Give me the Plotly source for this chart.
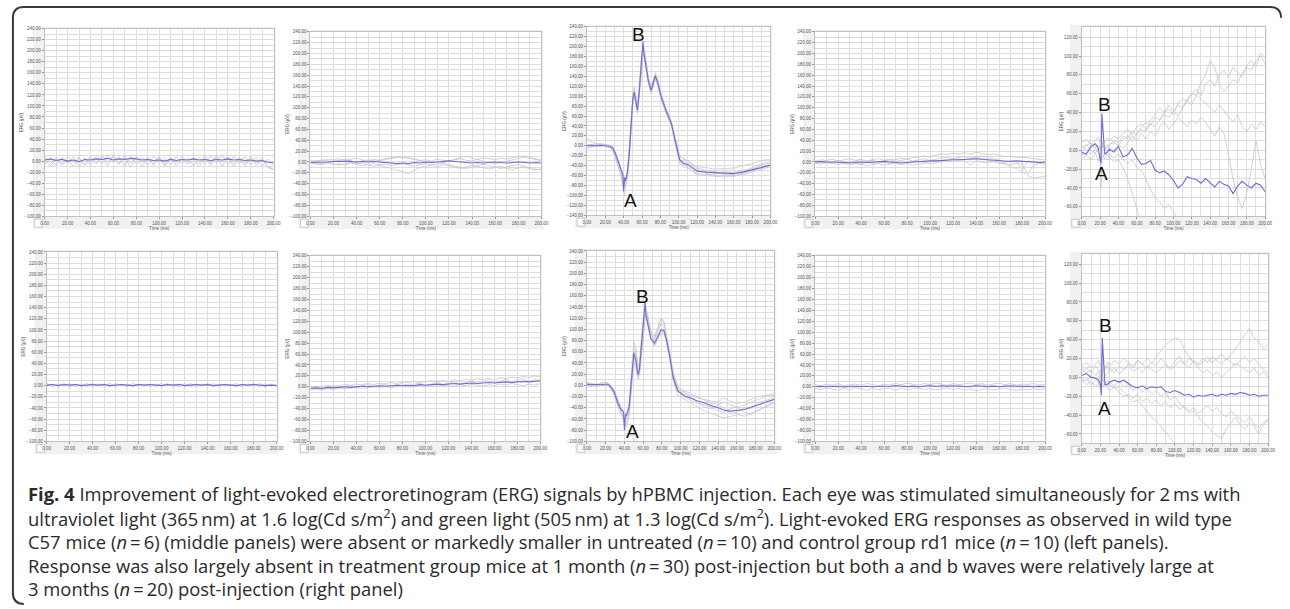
import plotly.graph_objects as go

# ---------------- data ----------------
t_flat = [0, 5, 10, 15, 20, 25, 30, 35, 40, 45, 50, 55, 60, 65, 70, 75, 80, 85, 90, 95,
          100, 105, 110, 115, 120, 125, 130, 135, 140, 145, 150, 155, 160, 165, 170, 175,
          180, 185, 190, 195, 200]

# Row 1 / left panel (rd1 untreated)
p1t_blue = [2, 4, 1, 3, 0, 2, -1, 3, 2, 4, 3, 5, 2, 4, 3, 5, 4, 2, 3, 1, 2, 0, 3, 1, 3, 2, 4, 2, 3, 1,
            3, 2, 4, 2, 3, 1, 2, 0, 1, -2, -3]
p1t_g1 = [8, -4, 6, -6, 9, -3, 7, -8, 5, -5, 10, -2, 8, -6, 11, -4, 9, -3, 7, -5, 8, -6, 6, -4, 9, -3,
          7, -5, 10, -4, 11, -2, 8, -6, 7, -5, 9, -4, 6, -12, -16]
p1t_g2 = [-6, 5, -8, 7, -4, 8, -10, 6, -7, 9, -5, 11, -3, 8, -9, 10, -6, 7, -8, 9, -4, 6, -7, 8, -5, 6,
          -9, 7, -6, 10, -4, 12, -7, 9, -5, 8, -6, 7, -9, 4, -8]
p1t_g3 = [3, -9, 4, -7, 2, -10, 5, -6, 9, -2, 6, -8, 12, -5, 7, -11, 5, -9, 4, -7, 6, -9, 5, -8, 4, -6,
          3, -10, 5, -7, 8, -9, 6, -10, 4, -8, 5, -7, 3, -11, -14]

# Row 2 / left panel (rd1 control)
p1b_blue = [1, 2, 0, 2, 1, 2, 0, 1, 2, 1, 2, 0, 1, 2, 1, 0, 2, 1, 2, 1, 0, 2, 1, 2, 0, 1, 2, 1, 2, 0,
            1, 2, 1, 0, 2, 1, 2, 1, 0, 1, 0]
p1b_g1 = [4, -2, 3, -1, 4, -2, 3, -2, 4, -1, 3, -2, 4, -1, 3, -2, 2, -1, 3, -2, 4, -1, 3, -2, 4, -2,
          3, -1, 4, -2, 3, -1, 2, -2, 3, -1, 4, -2, 3, -1, 2]
p1b_g2 = [-2, 3, -1, 4, -2, 3, -1, 4, -2, 3, -1, 4, -2, 3, -2, 4, -1, 3, -2, 3, -1, 4, -2, 3, -1, 4,
          -2, 3, -1, 4, -2, 3, -1, 4, -2, 3, -1, 4, -2, 3, -1]

# Row 1 / second panel
p2t_blue = [-1, -1, 0, 0, 1, 1, 2, 1, 0, 1, 0, 1, 0, -1, -2, -3, -2, -3, -1, -2, 0, -1, 0, 1, 2, 1, 0,
            -1, -2, -1, -2, -1, 0, -1, -2, -1, 0, -1, -2, -1, -2]
p2t_g1 = [0, 3, 2, 5, 4, 6, 3, 5, 7, 4, 2, 5, 3, 6, 8, 10, 7, 9, 5, 3, 4, 2, 5, 3, 1, 4, 6, 3, 2, 5,
          8, 6, 4, 7, 5, 8, 10, 11, 8, 6, 4]
p2t_g2 = [-2, -4, -3, -1, -5, -3, -6, -2, -4, -7, -5, -8, -6, -9, -12, -14, -18, -21, -15, -10, -8, -6,
          -9, -5, -7, -10, -12, -9, -6, -8, -11, -13, -10, -8, -12, -14, -11, -9, -13, -15, -12]
p2t_g3 = [3, 1, 4, 2, 0, 3, 5, 2, -1, 2, 4, 1, 3, 5, 6, 8, 9, 7, 5, 2, 0, -2, 1, -1, 2, 5, 8, 11, 7, 4,
          1, -2, -4, -1, 2, 4, 6, 9, 7, 4, 2]
p2t_g4 = [-1, -3, -5, -2, -4, -6, -3, -1, -4, -2, -5, -3, -6, -4, -7, -5, -3, -6, -8, -5, -3, -6, -4,
          -2, -5, -8, -10, -13, -9, -6, -4, -7, -10, -12, -9, -7, -5, -8, -11, -13, -15]

# Row 2 / second panel
p2b_blue = [-3, -2, -3, -1, -2, -1, 0, -1, 0, 1, 0, 1, 2, 1, 2, 3, 2, 3, 2, 4, 3, 4, 5, 4, 5, 6, 5, 6,
            7, 6, 7, 8, 7, 8, 9, 8, 9, 10, 9, 10, 11]
p2b_g1 = [-1, 1, 0, 3, 1, 2, 4, 3, 5, 4, 6, 4, 7, 5, 8, 6, 9, 7, 10, 8, 9, 11, 10, 12, 9, 13, 11, 14,
          12, 15, 13, 16, 12, 17, 15, 18, 16, 19, 17, 20, 18]
p2b_g2 = [-5, -4, -6, -3, -5, -2, -4, -3, -1, -3, -2, 0, -1, 1, -2, 0, 2, -1, 1, 3, 0, 2, 1, 3, 2, 1,
          4, 2, 5, 3, 1, 4, 2, 5, 3, 6, 4, 2, 5, 3, 6]
p2b_g3 = [-2, 0, -3, -1, 1, -2, 0, 3, -1, 2, 4, 0, 2, 5, 1, 3, 6, 2, 4, 7, 3, 5, 9, 4, 6, 10, 5, 8, 11,
          6, 9, 13, 7, 10, 14, 9, 12, 15, 10, 13, 12]

# Row 1 / middle panel (wild type C57)
p3t_time = [0, 5, 10, 15, 20, 25, 28, 31, 34, 37, 39, 40, 41, 42, 44, 46, 48, 50, 51.5, 53, 55, 57,
            59, 61, 62, 64, 67, 70, 72, 74.5, 77, 81, 86, 92, 96, 101, 105, 110, 114, 120, 130, 140,
            150, 160, 170, 180, 190, 200]
p3t_blue = [0, 1, 0, 1, 0, -1, -4, -16, -32, -48, -58, -92, -64, -70, -55, -18, 38, 95, 108, 92, 72,
            110, 155, 211, 188, 168, 130, 112, 125, 141, 128, 98, 72, 45, 12, -28, -35, -38, -43,
            -51, -53, -54, -55, -56, -53, -49, -44, -39]
p3t_g1 = [3, 2, 4, 2, 3, 1, -2, -12, -28, -45, -55, -62, -66, -68, -50, -10, 45, 105, 118, 100, 80,
          120, 170, 195, 198, 178, 138, 118, 130, 148, 135, 105, 78, 50, 18, -20, -28, -30, -36, -42,
          -44, -47, -46, -45, -40, -36, -30, -27]
p3t_g2 = [-3, -2, 2, -1, 1, -3, -8, -22, -40, -62, -80, -95, -100, -88, -65, -30, 28, 88, 100, 86, 65,
          100, 145, 180, 185, 162, 125, 105, 118, 135, 122, 92, 65, 40, 5, -35, -42, -45, -50, -58,
          -60, -62, -63, -60, -58, -53, -47, -42]
p3t_g3 = [15, 8, 3, 5, 2, 0, -6, -18, -35, -52, -65, -72, -75, -78, -60, -22, 35, 98, 112, 95, 76,
          106, 150, 185, 192, 172, 134, 115, 122, 138, 130, 102, 74, 48, 15, -22, -25, -32, -38, -45,
          -50, -52, -58, -62, -55, -50, -38, -35]
p3t_g4 = [-5, 0, -2, 3, -1, -4, -10, -25, -38, -55, -68, -78, -82, -72, -52, -12, 42, 100, 104, 88,
          70, 115, 160, 182, 180, 160, 128, 108, 128, 144, 133, 100, 70, 42, 8, -30, -38, -42, -47,
          -56, -58, -57, -52, -54, -50, -46, -42, -40]
p3t_g5 = [2, -3, 1, -2, 2, -2, -5, -14, -30, -50, -60, -66, -70, -74, -58, -20, 32, 92, 110, 96, 74,
          108, 158, 190, 194, 170, 132, 110, 120, 140, 126, 96, 68, 46, 10, -26, -32, -36, -40, -48,
          -55, -60, -60, -57, -52, -44, -36, -32]

# Row 2 / middle panel
p3b_time = [0, 5, 10, 15, 20, 23, 26, 29, 33, 36, 39, 40, 41, 42, 45, 47.5, 50, 52, 54.5, 56, 58, 60,
            62, 63, 65, 68, 72, 76, 79, 82, 85, 88, 92, 97, 104, 110, 118, 125, 132, 140, 146, 153,
            160, 168, 175, 182, 190, 200]
p3b_blue = [2, 1, 2, 1, 2, 2, -4, -12, -32, -42, -48, -80, -52, -54, -39, 8, 58, 45, 19, 28, 66, 100,
            149, 125, 110, 85, 75, 88, 99, 98, 80, 55, 14, -10, -19, -22, -28, -31, -36, -40, -44,
            -46, -45, -43, -39, -35, -30, -25]
p3b_g1 = [5, 3, 0, 4, 6, 3, -2, -10, -28, -40, -50, -58, -62, -60, -30, 25, 78, 70, 35, 42, 80, 118,
          135, 138, 125, 98, 88, 105, 118, 112, 88, 60, 20, -5, -12, -18, -22, -25, -28, -30, -22,
          -28, -32, -30, -25, -20, -18, -15]
p3b_g2 = [-2, 0, -3, 1, -1, 0, -8, -18, -38, -50, -62, -68, -72, -75, -55, -10, 40, 30, 10, 18, 55,
          92, 118, 122, 105, 82, 70, 82, 92, 94, 76, 50, 8, -18, -25, -30, -38, -45, -50, -55, -58,
          -56, -52, -55, -50, -45, -40, -32]
p3b_g3 = [3, 4, 1, 3, 5, 1, -5, -15, -30, -45, -55, -62, -60, -58, -42, 5, 70, 60, 28, 30, 70, 105,
          130, 132, 115, 92, 80, 98, 110, 105, 82, 58, 16, -8, -15, -20, -30, -38, -42, -36, -40,
          -50, -48, -40, -42, -30, -28, -22]
p3b_g4 = [0, -2, 1, -1, 0, -2, -6, -14, -35, -48, -56, -60, -66, -70, -48, -2, 50, 40, 15, 22, 60, 95,
          122, 126, 112, 86, 72, 85, 96, 100, 78, 52, 12, -12, -20, -26, -32, -35, -38, -45, -48,
          -42, -38, -48, -52, -46, -38, -30]
p3b_g5 = [1, 2, -1, 2, 1, 0, -3, -8, -25, -38, -46, -50, -52, -50, -35, 12, 62, 55, 25, 35, 72, 110,
          132, 130, 118, 95, 84, 102, 120, 115, 90, 62, 22, -2, -10, -14, -20, -26, -32, -34, -30,
          -35, -40, -35, -30, -26, -20, -18]

# Row 1 / fourth panel
p4t_blue = [0, 1, 0, 0, -1, -1, -2, -1, 0, -1, 0, 0, 1, 0, -1, -2, -1, 0, 1, 1, 2, 2, 3, 3, 4, 4, 5,
            5, 6, 5, 4, 3, 3, 2, 1, 2, 1, 0, 0, -1, 0]
p4t_g1 = [2, 4, 3, 5, 2, 4, 6, 3, 5, 2, 4, 6, 3, 5, 4, 7, 5, 8, 9, 11, 10, 13, 15, 14, 16, 15, 17, 14,
          18, 16, 13, 15, 12, 10, 11, 8, 9, 7, 6, 5, 4]
p4t_g2 = [-2, -4, -1, -3, -5, -2, -6, -3, -4, -7, -5, -3, -6, -4, -2, -5, -3, -6, -4, -2, -3, -1, 0,
          2, 1, 3, 5, 4, 8, 6, 3, 1, -2, -4, -8, -12, -18, -25, -30, -28, -26]
p4t_g3 = [1, -1, 2, 0, 3, 1, -1, 2, 4, 1, 3, 0, 2, 4, 1, 3, 5, 2, 4, 6, 3, 5, 7, 9, 6, 8, 10, 7, 9, 11,
          8, 6, 4, -2, 3, 1, -15, 2, 0, -2, -4]
p4t_g4 = [-1, 0, -2, 1, -1, -3, 0, -2, -4, -1, -3, -2, 0, -3, -1, 1, -2, 0, 2, -1, 1, 3, 2, 4, 6, 5,
          3, -6, 2, 0, -2, 1, -1, -3, -5, -2, -4, -22, -6, -3, -1]

# Row 2 / fourth panel
p4b_blue = [0, 1, 0, 1, 0, 0, 1, 0, 1, 1, 0, 1, 0, 1, 2, 1, 0, 1, 0, 1, 2, 1, 2, 1, 2, 1, 0, 1, 2, 1,
            0, 1, 0, 1, 2, 1, 0, 1, 0, 1, 0]
p4b_g1 = [4, 2, 5, 3, 6, 2, 4, 5, 3, 6, 4, 2, 5, 3, 6, 4, 7, 5, 3, 6, 4, 7, 5, 3, 6, 4, 5, 7, 4, 6, 3,
          5, 7, 4, 6, 3, 5, 4, 6, 3, 5]
p4b_g2 = [-3, -5, -2, -4, -6, -3, -5, -2, -4, -6, -3, -5, -4, -2, -6, -3, -5, -4, -2, -5, -3, -6, -4,
          -2, -5, -3, -6, -4, -7, -5, -3, -6, -4, -2, -5, -7, -4, -6, -3, -5, -4]
p4b_g3 = [1, -1, 2, 0, 3, -1, 1, 3, 0, 2, -1, 1, 3, 0, 2, 4, 1, 3, 0, 2, 4, 1, -1, 2, 0, 3, 1, -1, 2,
          4, 1, 3, 0, 2, -1, 1, 3, 0, 2, -1, 1]

# Right panels (treatment group)
p5_time = [0, 5, 10, 15, 18, 20, 21, 22, 23, 25, 28, 30, 35, 40, 45, 50, 55, 60, 65, 70, 75, 80, 85,
           90, 95, 100, 105, 110, 115, 120, 125, 130, 135, 140, 145, 150, 155, 160, 165, 170, 175,
           180, 185, 190, 195, 200]
p5t_blue = [-2, -4, 4, 7, 2, -9, -14, 39, 25, -4, -2, 1, -2, 4, -7, -5, 2, -8, -15, -14, -11, -21,
            -24, -22, -26, -32, -40, -36, -28, -30, -31, -35, -30, -34, -39, -33, -36, -38, -46, -38,
            -33, -37, -40, -35, -37, -44]
p5t_g1 = [-5, -3, 2, 5, 3, 1, 4, 6, 2, 0, 4, 6, 8, 5, 12, 15, 10, 18, 22, 20, 28, 25, 32, 38, 35, 42,
          48, 45, 55, 60, 58, 72, 80, 95, 88, 70, 62, 68, 75, 72, 82, 88, 85, 95, 100, 92]
p5t_g2 = [3, 6, 0, -3, 2, 5, 3, 8, 4, 2, -2, 5, 10, 8, 15, 12, 20, 16, 25, 30, 26, 35, 32, 40, 44, 38,
          50, 55, 52, 60, 65, 58, 70, 75, 68, 80, 85, 78, 88, 82, 78, 90, 95, 88, 103, 98]
p5t_g3 = [8, 12, 6, 10, 14, 8, 12, 10, 6, 9, 13, 10, 15, 12, 18, 22, 16, 25, 28, 22, 32, 38, 45, 40,
          48, 42, 36, 45, 52, 48, 58, 55, 50, 45, 40, 48, 42, 36, 30, 38, 25, 20, 28, 22, 30, 25]
p5t_g4 = [-8, -5, -10, -3, -12, -6, -40, -8, -5, -10, -4, -8, -12, -10, -18, -30, -45, -62, -78, -88]
p5t_g5 = [5, 0, -4, 2, -2, -5, -2, 0, -3, -6, -2, -5, -8, -4, -10, -14, -10, -18, -22, -30, -42, -50,
          -55, -62, -58, -65, -72, -80]
p5t_g6 = [-2, 5, 8, 3, 6, 2, 0, 3, 5, 2, 6, 3, 0, 6, 2, 8, 15, 10, 18, 12, 20, 15, 25, 30, 22, 28, 35,
          30, 25, 32, 28, 35, 30, 22, 15, 25, 18, -5, -30, -50, -62, -45, -20, 10, -15, -30]

p5b_blue = [2, 4, 0, -1, -3, -7, -19, 42, 26, -8, -7, -5, -3, -5, -3, -7, -10, -11, -9, -12, -10, -11,
            -10, -15, -16, -14, -16, -19, -18, -21, -19, -20, -19, -18, -20, -18, -19, -17, -18, -16,
            -17, -19, -18, -20, -19, -19]
p5b_g1 = [5, 10, 6, 12, 8, 5, 10, 30, 15, 8, 12, 6, 10, 4, 8, 12, 6, 10, 5, 12, 8, 5, 10, 14, 8, 12,
          18, 14, 20, 18, 12, 16, 22, 15, 20, 25, 18, 25, 30, 38, 45, 52, 42, 38, 30, 35]
p5b_g2 = [10, 4, 8, 2, 6, 0, 4, 20, 8, 2, 5, 10, 5, 12, 8, 15, 10, 18, 14, 20, 15, 22, 28, 35, 38, 42,
          40, 30, 22, 15, 10, 5, 8, 2, 6, 0, 5, 10, 15, 12, 8, 5, 10, 2, 6, 0]
p5b_g3 = [-5, 0, -8, -3, -6, -10, -4, 8, -2, -6, -10, -5, -9, -4, -10, -8, -14, -10, -16, -12, -18,
          -14, -20, -16, -24, -20, -28, -32, -38, -35, -42, -48, -52, -58, -62, -65, -55, -48, -42,
          -50, -55, -48, -52, -60, -50, -45]
p5b_g4 = [0, -4, 3, -2, 1, -5, -2, 10, -4, -6, -3, -8, -12, -10, -16, -20, -26, -24, -30, -36, -42,
          -46, -52, -58, -64, -70, -78]
p5b_g5 = [12, 16, 10, 14, 18, 12, 15, 22, 14, 10, 16, 12, 18, 14, 20, 16, 12, 18, 14, 10, 16, 12, 20,
          15, 10, 18, 22, 15, 10, 18, 14, 20, 16, 22, 18, 14, 20, 16, 12, 18, 22, 16, 20, 14, 8, 4]
p5b_g6 = [-2, -8, -4, -10, -6, -12, -8, 5, -10, -6, -12, -14, -10, -16, -20, -18, -22, -18, -26, -22,
          -28, -24, -30, -26, -32, -28, -34, -30, -36, -32, -38, -34, -30, -36, -32, -38, -42, -36,
          -40, -44, -48, -42, -50, -54, -48, -44]

y_range_std = [-100, 240]
y_range_wt_top = [-140, 240]
y_range_treat = [-70, 131]

caption_lines = [
    "<b>Fig. 4</b> Improvement of light-evoked electroretinogram (ERG) signals by hPBMC injection. "
    "Each eye was stimulated simultaneously for 2\u2009ms with",
    "ultraviolet light (365\u2009nm) at 1.6 log(Cd s/m<sup>2</sup>) and green light (505\u2009nm) at "
    "1.3 log(Cd s/m<sup>2</sup>). Light-evoked ERG responses as observed in wild type",
    "C57 mice (<i>n</i>\u2009=\u20096) (middle panels) were absent or markedly smaller in untreated "
    "(<i>n</i>\u2009=\u200910) and control group rd1 mice (<i>n</i>\u2009=\u200910) (left panels).",
    "Response was also largely absent in treatment group mice at 1 month (<i>n</i>\u2009=\u200930) "
    "post-injection but both a and b waves were relatively large at",
    "3 months (<i>n</i>\u2009=\u200920) post-injection (right panel)",
]

# ---------------- layout helpers ----------------
W, H = 1290, 609
BLUE = "#6c6cd6"
GRAYL = "#c6c6c6"
GRID = "#dedede"


def fx(x):
    return x / W


def fy(y):
    return 1 - y / H


panels = [
    # row 1
    dict(t=t_flat, blue=p1t_blue, grays=[p1t_g1, p1t_g2, p1t_g3], yr=y_range_std, box=(41, 27, 272, 216)),
    dict(t=t_flat, blue=p2t_blue, grays=[p2t_g1, p2t_g2, p2t_g3, p2t_g4], yr=y_range_std, box=(309, 30, 542, 216)),
    dict(t=p3t_time, blue=p3t_blue, grays=[p3t_g1, p3t_g2, p3t_g3, p3t_g4, p3t_g5], yr=y_range_wt_top,
         box=(588, 25, 773, 215), labels=[("B", 56, 224), ("A", 47, -110)]),
    dict(t=t_flat, blue=p4t_blue, grays=[p4t_g1, p4t_g2, p4t_g3, p4t_g4], yr=y_range_std, box=(818, 30, 1050, 216)),
    dict(t=p5_time, blue=p5t_blue, grays=[p5t_g1, p5t_g2, p5t_g3, p5t_g4, p5t_g5, p5t_g6], yr=y_range_treat,
         box=(1087, 25, 1272, 216), labels=[("B", 25, 49), ("A", 22, -25)]),
    # row 2
    dict(t=t_flat, blue=p1b_blue, grays=[p1b_g1, p1b_g2], yr=y_range_std, box=(43, 252, 275, 443)),
    dict(t=t_flat, blue=p2b_blue, grays=[p2b_g1, p2b_g2, p2b_g3], yr=y_range_std, box=(309, 256, 541, 443)),
    dict(t=p3b_time, blue=p3b_blue, grays=[p3b_g1, p3b_g2, p3b_g3, p3b_g4, p3b_g5], yr=y_range_std,
         box=(588, 251, 777, 443), labels=[("B", 59, 158), ("A", 49, -83)]),
    dict(t=t_flat, blue=p4b_blue, grays=[p4b_g1, p4b_g2, p4b_g3], yr=y_range_std, box=(818, 256, 1050, 443)),
    dict(t=p5_time, blue=p5b_blue, grays=[p5b_g1, p5b_g2, p5b_g3, p5b_g4, p5b_g5, p5b_g6], yr=y_range_treat,
         box=(1087, 254, 1275, 445), labels=[("B", 25, 55), ("A", 24, -33)]),
]

fig = go.Figure()
shapes = []
annotations = []
tickfont = dict(family="Liberation Sans, Arial", size=4.5, color="#555555")

for i, p in enumerate(panels):
    k = i + 1
    sfx = "" if k == 1 else str(k)
    xname, yname = "x" + sfx, "y" + sfx
    for g in p["grays"]:
        fig.add_trace(go.Scatter(x=p["t"][:len(g)], y=g, mode="lines", xaxis=xname, yaxis=yname,
                                 line=dict(color=GRAYL, width=0.8), showlegend=False, hoverinfo="skip"))
    fig.add_trace(go.Scatter(x=p["t"], y=p["blue"], mode="lines", xaxis=xname, yaxis=yname,
                             line=dict(color=BLUE, width=1.1), showlegend=False))
    L, T, R, B = p["box"]
    fig.layout["xaxis" + sfx] = dict(
        domain=[fx(L), fx(R)], anchor=yname, range=[0, 200], tick0=0, dtick=20, tickformat=".2f",
        showgrid=True, gridcolor=GRID, gridwidth=1,
        minor=dict(dtick=10, showgrid=True, gridcolor=GRID, gridwidth=1),
        zeroline=False, showline=True, linecolor="#c0c0c0", linewidth=1, mirror=True,
        ticks="outside", ticklen=2, tickcolor="#999999", tickfont=tickfont,
        title=dict(text="Time (ms)", font=tickfont, standoff=0))
    fig.layout["yaxis" + sfx] = dict(
        domain=[fy(B), fy(T)], anchor=xname, range=p["yr"], tick0=0, dtick=20, tickformat=".2f",
        showgrid=True, gridcolor=GRID, gridwidth=1,
        minor=dict(dtick=10, showgrid=True, gridcolor=GRID, gridwidth=1),
        zeroline=False, showline=True, linecolor="#c0c0c0", linewidth=1, mirror=True,
        ticks="outside", ticklen=2, tickcolor="#999999", tickfont=tickfont,
        title=dict(text="ERG (\u00b5V)", font=tickfont, standoff=0))
    # light grey panel background and the small zoom button
    shapes.append(dict(type="rect", xref="paper", yref="paper", x0=fx(L - 12), x1=fx(R + 2),
                       y0=fy(B + 13), y1=fy(T - 2), fillcolor="#f1f1f1", line=dict(width=0), layer="below"))
    shapes.append(dict(type="rect", xref="paper", yref="paper", x0=fx(L), x1=fx(R),
                       y0=fy(B), y1=fy(T), fillcolor="white", line=dict(width=0), layer="below"))
    shapes.append(dict(type="rect", xref="paper", yref="paper", x0=fx(L - 10), x1=fx(L - 2),
                       y0=fy(B + 11), y1=fy(B + 3), fillcolor="white",
                       line=dict(width=0.6, color="#aaaaaa"), layer="below"))
    for txt, lx, ly in p.get("labels", []):
        annotations.append(dict(text=txt, x=lx, y=ly, xref=xname, yref=yname, showarrow=False,
                                font=dict(family="Liberation Sans, Arial", size=19, color="#111111"),
                                xanchor="center", yanchor="middle"))

# caption
cap_y = [496, 520, 544, 568, 591]
for line, yy in zip(caption_lines, cap_y):
    annotations.append(dict(text=line, x=fx(22), y=fy(yy), xref="paper", yref="paper", showarrow=False,
                            xanchor="left", yanchor="middle", align="left",
                            font=dict(family="Open Sans", size=18.4, color="#2a2a2a")))


# outer rounded frame (left/top)
def pt(x, y):
    return f"{fx(x):.5f},{fy(y):.5f}"


frame = ("M " + pt(20, 607) + " Q " + pt(9, 607) + " " + pt(9, 596) + " L " + pt(9, 16) +
         " Q " + pt(9, 5) + " " + pt(20, 5) + " L " + pt(1277, 5) + " Q " + pt(1288, 5) + " " + pt(1288, 16))
shapes.append(dict(type="path", xref="paper", yref="paper", path=frame,
                   line=dict(color="#3a3a3a", width=2)))

fig.update_layout(width=W, height=H, margin=dict(l=0, r=0, t=0, b=0),
                  paper_bgcolor="white", plot_bgcolor="white",
                  shapes=shapes, annotations=annotations, showlegend=False)

fig.write_html("out.html", config={"displayModeBar": False},
               post_script="document.body.style.margin='0';document.body.style.overflow='hidden';")
